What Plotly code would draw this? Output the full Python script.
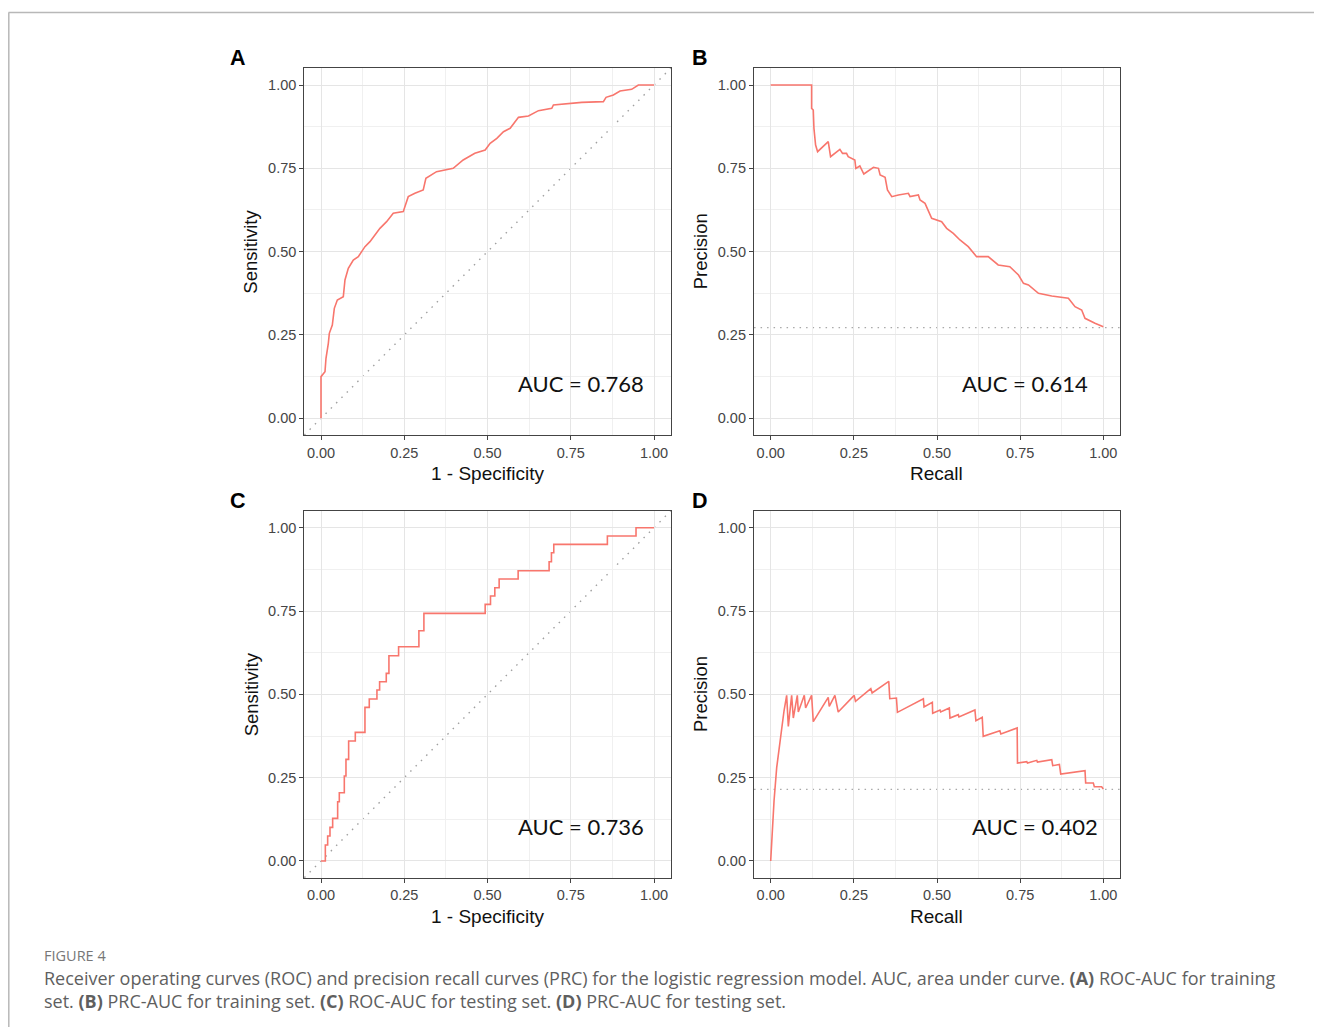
import plotly.graph_objects as go

# ---------------- data ----------------
# (A) ROC, training set
roc_train_fpr = [0, 0, 0.012, 0.015, 0.022, 0.025, 0.034, 0.040, 0.049, 0.067, 0.072, 0.082, 0.097, 0.112,
                 0.132, 0.147, 0.162, 0.177, 0.197, 0.217, 0.247, 0.262, 0.282, 0.307, 0.315, 0.347, 0.397,
                 0.427, 0.462, 0.493, 0.508, 0.528, 0.548, 0.568, 0.593, 0.623, 0.653, 0.693, 0.698, 0.743,
                 0.783, 0.848, 0.856, 0.878, 0.898, 0.933, 0.953, 1.0]
roc_train_tpr = [0, 0.125, 0.14, 0.18, 0.225, 0.255, 0.28, 0.33, 0.355, 0.365, 0.415, 0.45, 0.475, 0.485,
                 0.515, 0.53, 0.55, 0.57, 0.59, 0.615, 0.62, 0.665, 0.675, 0.685, 0.72, 0.74, 0.75,
                 0.775, 0.795, 0.805, 0.825, 0.84, 0.86, 0.87, 0.903, 0.907, 0.923, 0.93, 0.94, 0.945,
                 0.948, 0.95, 0.963, 0.97, 0.982, 0.987, 1.0, 1.0]

# (B) PRC, training set
prc_train_recall = [0, 0.123, 0.123, 0.128, 0.130, 0.135, 0.141, 0.173, 0.180, 0.208, 0.216, 0.228, 0.233,
                    0.241, 0.253, 0.256, 0.268, 0.280, 0.309, 0.324, 0.329, 0.344, 0.351, 0.364, 0.384,
                    0.414, 0.419, 0.444, 0.449, 0.464, 0.484, 0.514, 0.529, 0.549, 0.569, 0.594, 0.619,
                    0.654, 0.684, 0.719, 0.745, 0.760, 0.775, 0.805, 0.845, 0.895, 0.915, 0.935, 0.945,
                    0.975, 1.0]
prc_train_precision = [1.0, 1.0, 0.93, 0.925, 0.87, 0.82, 0.80, 0.83, 0.785, 0.807, 0.795, 0.795, 0.785,
                       0.78, 0.775, 0.75, 0.757, 0.733, 0.753, 0.75, 0.73, 0.723, 0.685, 0.665, 0.67,
                       0.675, 0.665, 0.67, 0.655, 0.645, 0.60, 0.59, 0.57, 0.555, 0.535, 0.515, 0.485,
                       0.485, 0.46, 0.455, 0.43, 0.405, 0.40, 0.375, 0.367, 0.36, 0.335, 0.325, 0.30,
                       0.285, 0.275]
prc_train_baseline = 0.272

# (C) ROC, testing set (step corners)
roc_test_fpr = [0, 0.013, 0.020, 0.027, 0.035, 0.050, 0.055, 0.070, 0.075, 0.083, 0.103, 0.132, 0.145,
                0.168, 0.176, 0.196, 0.204, 0.233, 0.294, 0.309, 0.493, 0.509, 0.522, 0.535, 0.592,
                0.685, 0.692, 0.699, 0.860, 0.946, 1.0]
roc_test_tpr = [0, 0.048, 0.075, 0.101, 0.128, 0.178, 0.205, 0.255, 0.305, 0.36, 0.386, 0.461, 0.486,
                0.513, 0.538, 0.563, 0.616, 0.643, 0.691, 0.743, 0.77, 0.795, 0.82, 0.846, 0.871,
                0.898, 0.925, 0.95, 0.975, 1.0, 1.0]

# (D) PRC, testing set
prc_test_recall = [0, 0.010, 0.018, 0.030, 0.040, 0.048, 0.053, 0.063, 0.068, 0.080, 0.083, 0.101, 0.105,
                   0.123, 0.128, 0.173, 0.176, 0.193, 0.203, 0.251, 0.255, 0.301, 0.305, 0.355, 0.358,
                   0.378, 0.381, 0.459, 0.461, 0.486, 0.487, 0.509, 0.511, 0.537, 0.539, 0.564, 0.566,
                   0.614, 0.617, 0.636, 0.639, 0.689, 0.692, 0.741, 0.742, 0.770, 0.772, 0.80, 0.802,
                   0.845, 0.848, 0.868, 0.872, 0.945, 0.947, 0.970, 0.973, 0.995, 1.0]
prc_test_precision = [0, 0.18, 0.28, 0.38, 0.45, 0.497, 0.404, 0.497, 0.429, 0.497, 0.447, 0.497, 0.459,
                      0.497, 0.418, 0.491, 0.464, 0.497, 0.447, 0.497, 0.479, 0.517, 0.504, 0.539, 0.487,
                      0.489, 0.446, 0.487, 0.462, 0.476, 0.443, 0.453, 0.447, 0.459, 0.429, 0.439, 0.432,
                      0.453, 0.421, 0.431, 0.374, 0.391, 0.381, 0.399, 0.294, 0.298, 0.294, 0.302, 0.297,
                      0.304, 0.286, 0.29, 0.261, 0.271, 0.234, 0.234, 0.223, 0.223, 0.216]
prc_test_baseline = 0.215

auc_labels = ["AUC = 0.768", "AUC = 0.614", "AUC = 0.736", "AUC = 0.402"]
panel_letters = ["A", "B", "C", "D"]
x_titles = ["1 - Specificity", "Recall", "1 - Specificity", "Recall"]
y_titles = ["Sensitivity", "Precision", "Sensitivity", "Precision"]
tick_vals = [0, 0.25, 0.5, 0.75, 1.0]
tick_text = ["0.00", "0.25", "0.50", "0.75", "1.00"]
minor_vals = [0.125, 0.375, 0.625, 0.875]

caption_head = "FIGURE 4"
caption_line1 = ("Receiver operating curves (ROC) and precision recall curves (PRC) for the logistic regression "
                 "model. AUC, area under curve. <b>(A)</b> ROC-AUC for training")
caption_line2 = ("set. <b>(B)</b> PRC-AUC for training set. <b>(C)</b> ROC-AUC for testing set. "
                 "<b>(D)</b> PRC-AUC for testing set.")

# ---------------- geometry (page pixels) ----------------
W, H = 1306, 1019
OFF = 8  # default body margin of the html page


def px(x):
    return (x - OFF) / W


def py(y):
    return 1 - (y - OFF) / H


cols = [(321.0, 654.0), (770.7, 1103.3)]   # page x of value 0 and 1
rows = [(85.0, 418.3), (527.7, 861.0)]     # page y of value 1 and 0
letter_dx = [83.5, 70.7]


def xdom(c):
    a, b = cols[c]
    u = b - a
    return [px(a - 0.05 * u), px(b + 0.05 * u)]


def ydom(r):
    t, bt = rows[r]
    u = bt - t
    return [py(bt + 0.05 * u), py(t - 0.05 * u)]


RED = "#F8766D"
AXFONT = "Liberation Sans, Arial, sans-serif"

fig = go.Figure()

series = [
    (roc_train_fpr, roc_train_tpr, "linear"),
    (prc_train_recall, prc_train_precision, "linear"),
    (roc_test_fpr, roc_test_tpr, "hv"),
    (prc_test_recall, prc_test_precision, "linear"),
]
for i, (xs, ys, shape) in enumerate(series):
    suffix = "" if i == 0 else str(i + 1)
    fig.add_trace(go.Scatter(x=xs, y=ys, mode="lines", line=dict(color=RED, width=1.6, shape=shape),
                             xaxis="x" + suffix, yaxis="y" + suffix, showlegend=False, hoverinfo="skip"))


def axis(domain, anchor):
    return dict(domain=domain, anchor=anchor, range=[-0.05, 1.05], tickmode="array",
                tickvals=tick_vals, ticktext=tick_text, ticks="outside", ticklen=4, tickwidth=1.2,
                tickcolor="#444444", tickfont=dict(family=AXFONT, size=14.5, color="#454545"),
                showline=True, linecolor="#444444", linewidth=1.3, mirror=True,
                showgrid=True, gridcolor="#e5e5e5", gridwidth=1.2, zeroline=False,
                minor=dict(tickvals=minor_vals, showgrid=True, gridcolor="#f0f0f0", gridwidth=0.8),
                fixedrange=True)


layout = dict(width=W, height=H, margin=dict(l=0, r=0, t=0, b=0), paper_bgcolor="white",
              plot_bgcolor="white", showlegend=False)
for i in range(4):
    r, c = divmod(i, 2)
    suffix = "" if i == 0 else str(i + 1)
    layout["xaxis" + suffix] = axis(xdom(c), "y" + suffix)
    layout["yaxis" + suffix] = axis(ydom(r), "x" + suffix)
fig.update_layout(**layout)

shapes = []
# diagonal reference lines for ROC panels
for i in (0, 2):
    suffix = "" if i == 0 else str(i + 1)
    shapes.append(dict(type="line", xref="x" + suffix + " domain", yref="y" + suffix + " domain",
                       x0=0, y0=0, x1=1, y1=1, layer="below",
                       line=dict(color="#a0a0a0", width=1.4, dash="1.5px,6px")))
# baselines for PRC panels
for i, base in ((1, prc_train_baseline), (3, prc_test_baseline)):
    suffix = str(i + 1)
    shapes.append(dict(type="line", xref="x" + suffix + " domain", yref="y" + suffix,
                       x0=0, x1=1, y0=base, y1=base, layer="below",
                       line=dict(color="#a8a8a8", width=1.3, dash="1.5px,5px")))
# outer frame of the figure page
shapes.append(dict(type="line", xref="paper", yref="paper", x0=px(8.5), x1=1, y0=py(12.5), y1=py(12.5),
                   line=dict(color="#b8b8b8", width=1.5)))
shapes.append(dict(type="line", xref="paper", yref="paper", x0=px(8.8), x1=px(8.8), y0=py(12.5), y1=0,
                   line=dict(color="#b8b8b8", width=1.5)))

annotations = []
auc_pos = [(0.782, 0.105), (0.764, 0.105), (0.782, 0.103), (0.795, 0.103)]
for i in range(4):
    r, c = divmod(i, 2)
    suffix = "" if i == 0 else str(i + 1)
    ax_, ay_ = auc_pos[i]
    annotations.append(dict(text=auc_labels[i], xref="x" + suffix, yref="y" + suffix, x=ax_, y=ay_,
                            xanchor="center", yanchor="middle", showarrow=False,
                            font=dict(family="Lato, Noto Sans, sans-serif", size=22, color="#111111")))
    x0p, x1p = cols[c]
    y1p, y0p = rows[r]
    # x-axis title
    annotations.append(dict(text=x_titles[i], xref="paper", yref="paper", x=px((x0p + x1p) / 2),
                            y=py(y0p + 55), xanchor="center", yanchor="middle", showarrow=False,
                            font=dict(family=AXFONT, size=19, color="#111111")))
    # y-axis title
    annotations.append(dict(text=y_titles[i], xref="paper", yref="paper", x=px(x0p - 70),
                            y=py((y0p + y1p) / 2), xanchor="center", yanchor="middle", showarrow=False,
                            textangle=-90, font=dict(family=AXFONT, size=18.5, color="#111111")))
    # panel letter
    annotations.append(dict(text="<b>" + panel_letters[i] + "</b>", xref="paper", yref="paper",
                            x=px(x0p - letter_dx[c]), y=py(y1p - 27), xanchor="center", yanchor="middle",
                            showarrow=False, font=dict(family=AXFONT, size=21.5, color="#000000")))

annotations.append(dict(text=caption_head, xref="paper", yref="paper", x=px(42), y=py(955),
                        xanchor="left", yanchor="middle", showarrow=False,
                        font=dict(family="Open Sans, sans-serif", size=14.5, color="#777777")))
annotations.append(dict(text=caption_line1, xref="paper", yref="paper", x=px(42), y=py(978),
                        xanchor="left", yanchor="middle", showarrow=False,
                        font=dict(family="Open Sans, sans-serif", size=18, color="#5f5f5f")))
annotations.append(dict(text=caption_line2, xref="paper", yref="paper", x=px(42), y=py(1001),
                        xanchor="left", yanchor="middle", showarrow=False,
                        font=dict(family="Open Sans, sans-serif", size=18, color="#5f5f5f")))

fig.update_layout(shapes=shapes, annotations=annotations)
fig.write_html("out.html")
